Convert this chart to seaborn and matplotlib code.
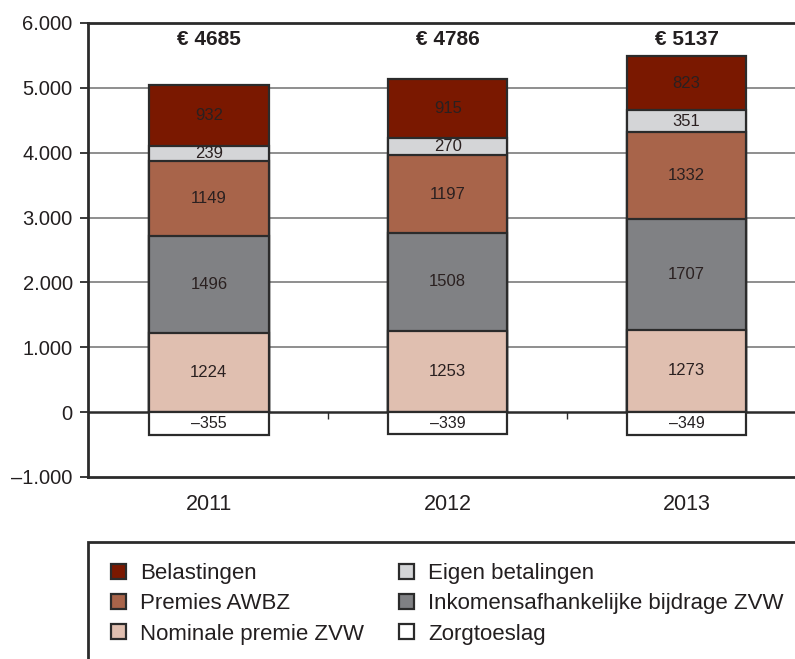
import numpy as np
import pandas as pd
import matplotlib
matplotlib.use('Agg')
import matplotlib.pyplot as plt
from matplotlib.patches import Patch, Rectangle
import seaborn as sns

# data (bedragen per persoon, euro)
jaren = ['2011', '2012', '2013']
nominale_premie = [1224, 1253, 1273]
inkomensafh = [1496, 1508, 1707]
premies_awbz = [1149, 1197, 1332]
eigen_betalingen = [239, 270, 351]
belastingen = [932, 915, 823]
zorgtoeslag = [-355, -339, -349]
totalen = ['€ 4685', '€ 4786', '€ 5137']

y_ticks = [-1000, 0, 1000, 2000, 3000, 4000, 5000, 6000]
y_labels = ['–1.000', '0', '1.000', '2.000', '3.000', '4.000', '5.000', '6.000']

# lagen van onder naar boven
lagen = [
    ('Nominale premie ZVW', nominale_premie, '#e0bfb0'),
    ('Inkomensafhankelijke bijdrage ZVW', inkomensafh, '#808184'),
    ('Premies AWBZ', premies_awbz, '#a8644a'),
    ('Eigen betalingen', eigen_betalingen, '#d4d5d7'),
    ('Belastingen', belastingen, '#7a1800'),
]

sns.set_style('white')
plt.rcParams['font.family'] = ['Liberation Sans', 'DejaVu Sans']
tekst = '#231f20'
rand = '#2b2b2b'

fig = plt.figure(figsize=(7.95, 6.59), dpi=100)
ax = fig.add_axes([88 / 795, 1 - 477 / 659, 718 / 795, 454 / 659])

df = pd.DataFrame({'jaar': jaren})
cum = np.zeros(len(jaren))
cums = []
for naam, waarden, kleur in lagen:
    cum = cum + np.array(waarden)
    cums.append(cum.copy())

# stapel tekenen: hoogste cumulatief eerst, daarna de lagere erover
for i in reversed(range(len(lagen))):
    df['waarde'] = cums[i]
    sns.barplot(data=df, x='jaar', y='waarde', order=jaren, color=lagen[i][2],
                saturation=1, width=0.5, edgecolor=rand, linewidth=1.6,
                errorbar=None, ax=ax, zorder=3 + (len(lagen) - i))

df['waarde'] = zorgtoeslag
sns.barplot(data=df, x='jaar', y='waarde', order=jaren, color='white',
            saturation=1, width=0.5, edgecolor=rand, linewidth=1.6,
            errorbar=None, ax=ax, zorder=10)

# labels in de segmenten
for i, (naam, waarden, kleur) in enumerate(lagen):
    for j, v in enumerate(waarden):
        ax.text(j, cums[i][j] - v / 2, str(v), ha='center', va='center',
                fontsize=12, color='#2a2020', zorder=20)
for j, v in enumerate(zorgtoeslag):
    ax.text(j, v / 2, '–' + str(abs(v)), ha='center', va='center',
            fontsize=11.5, color=tekst, zorder=20)

for j, t in enumerate(totalen):
    ax.text(j, 5750, t, ha='center', va='center', fontsize=15,
            fontweight='bold', color=tekst)

# rasterlijnen en nullijn
for y in [1000, 2000, 3000, 4000, 5000]:
    ax.axhline(y, color='#707070', lw=1.1, zorder=1)
ax.axhline(0, color=rand, lw=1.8, zorder=2)
ax.vlines([0.5, 1.5], -110, 0, color=rand, lw=1, zorder=2)

ax.set_xlim(-0.506, 2.5)
ax.set_ylim(-1000, 6000)
ax.set_yticks(y_ticks)
ax.set_yticklabels(y_labels)
ax.set_xlabel('')
ax.set_ylabel('')
ax.tick_params(axis='y', length=6, width=1.3, color=rand, pad=5,
               labelsize=14.5, labelcolor=tekst, left=True)
ax.tick_params(axis='x', length=0, pad=12, labelsize=15.5, labelcolor=tekst)
for s in ax.spines.values():
    s.set_color(rand)
    s.set_linewidth(2)

# legenda, twee kolommen
kol1 = [
    Patch(facecolor='#7a1800', edgecolor=rand, lw=1.6, label='Belastingen'),
    Patch(facecolor='#a8644a', edgecolor=rand, lw=1.6, label='Premies AWBZ'),
    Patch(facecolor='#e0bfb0', edgecolor=rand, lw=1.6, label='Nominale premie ZVW'),
]
kol2 = [
    Patch(facecolor='#d4d5d7', edgecolor=rand, lw=1.6, label='Eigen betalingen'),
    Patch(facecolor='#808184', edgecolor=rand, lw=1.6, label='Inkomensafhankelijke bijdrage ZVW'),
    Patch(facecolor='white', edgecolor=rand, lw=1.6, label='Zorgtoeslag'),
]
for handles, x0 in [(kol1, 111), (kol2, 399)]:
    leg = fig.legend(handles=handles, ncol=1, loc='upper left',
                     bbox_to_anchor=(x0 / 795, 1 - 563 / 659), frameon=False,
                     borderpad=0, borderaxespad=0, fontsize=16,
                     handlelength=0.66, handleheight=0.66, handletextpad=0.66,
                     labelspacing=0.42)
    for t in leg.get_texts():
        t.set_color(tekst)

fig.add_artist(Rectangle((88 / 795, -0.1), 1.0, 0.1 + (659 - 542) / 659,
                         transform=fig.transFigure, fill=False,
                         edgecolor=rand, lw=2))

fig.savefig('out.png', dpi=100)
